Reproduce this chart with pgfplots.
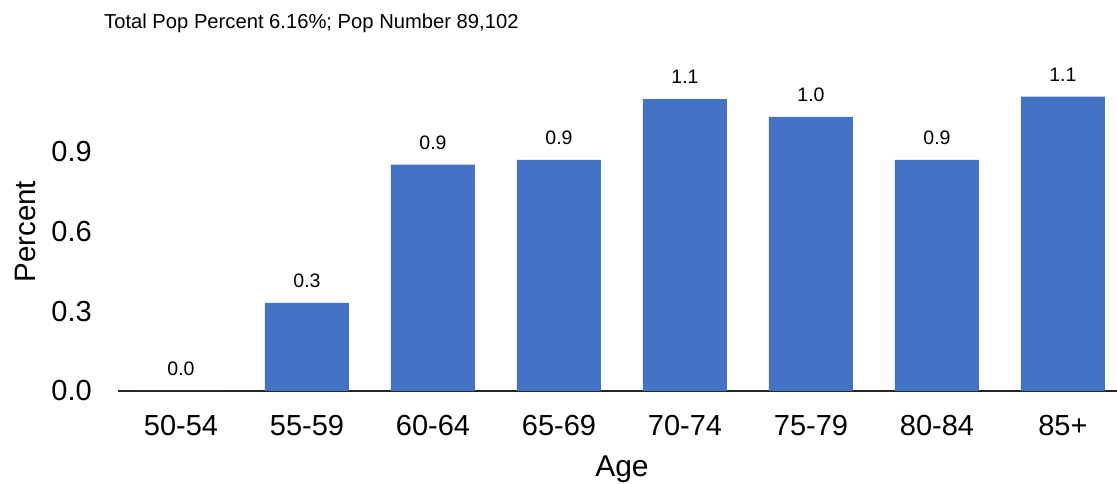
\documentclass[border=0pt]{standalone}
\usepackage{pgfplots}
\pgfplotsset{compat=1.18}
\usepackage{fontspec}
\setmainfont{Liberation Sans}
\definecolor{barblue}{HTML}{4472C4}

\begin{document}
\begin{tikzpicture}
\begin{axis}[
  scale only axis,
  width=999pt, height=318.7pt,
  xmin=-0.5, xmax=7.429,
  ymin=0, ymax=1.2,
  clip=false,
  ybar, bar width=84pt,
  /pgf/number format/assume math mode=true,
  axis x line*=bottom, axis y line*=left,
  x axis line style={line width=2pt, draw=black!85},
  y axis line style={draw=none},
  major tick length=0pt,
  xtick={0,...,7},
  xticklabels={50-54,55-59,60-64,65-69,70-74,75-79,80-84,85+},
  ytick={0,0.3,0.6,0.9},
  tick label style={font=\fontsize{29}{34}\selectfont, inner sep=0pt},
  yticklabel style={/pgf/number format/fixed,
    /pgf/number format/fixed zerofill,
    /pgf/number format/precision=1,
    anchor=east, xshift=-26pt},
  xticklabel style={anchor=north, yshift=-24pt},
  xlabel={Age},
  xlabel style={at={([yshift=-86pt]axis cs:3.5,0)}, anchor=base,
    inner sep=0pt, font=\fontsize{30}{36}\selectfont},
  ylabel={Percent},
  ylabel style={at={([xshift=-93pt]axis cs:-0.5,0.6)}, anchor=center,
    inner sep=0pt, font=\fontsize{29.5}{35}\selectfont},
  nodes near coords={\pgfmathprintnumber[fixed,fixed zerofill,precision=1]{\pgfplotspointmeta}},
  every node near coord/.append style={font=\fontsize{19.5}{24}\selectfont,
    anchor=south, inner sep=0pt, yshift=15pt, text=black},
]
\addplot[fill=barblue, draw=none] coordinates {
  (0,0.000) (1,0.332) (2,0.852) (3,0.870)
  (4,1.099) (5,1.032) (6,0.870) (7,1.108)
};
\coordinate (O) at (axis cs:-0.5,0);
\node[anchor=base west, inner sep=0pt, font=\fontsize{20.2}{24}\selectfont]
  at ([xshift=-14pt, yshift=362pt]axis cs:-0.5,0)
  {Total Pop Percent 6.16\%; Pop Number 89,102};
\end{axis}
\pgfresetboundingbox
\path ([xshift=-118pt, yshift=-93pt]O) rectangle ++(1117pt,484pt);
\end{tikzpicture}
\end{document}
